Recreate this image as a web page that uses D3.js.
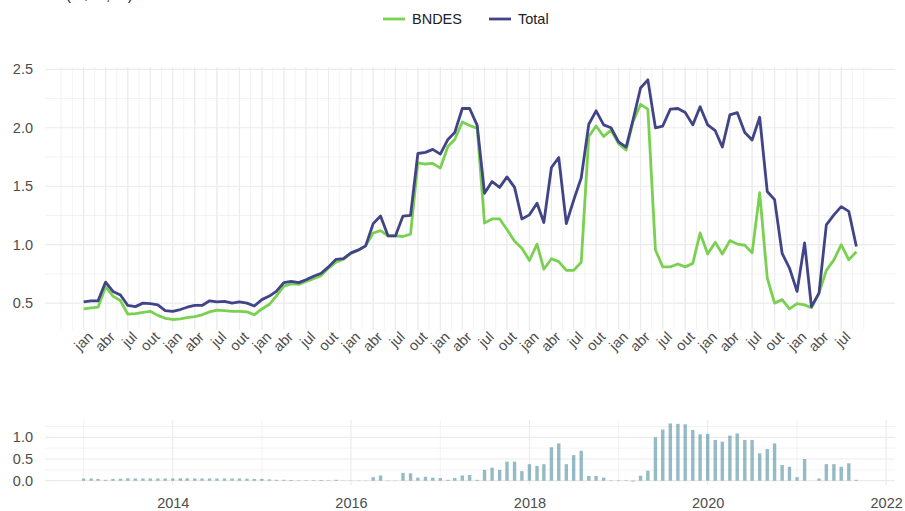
<!DOCTYPE html>
<html>
<head>
<meta charset="utf-8">
<script src="https://cdn.jsdelivr.net/npm/d3@7"></script>
<style>
  body { margin: 0; background: #fff; }
  text { font-family: "Liberation Sans", Arial, sans-serif; }
</style>
</head>
<body>
<div id="chart"></div>
<script>
// monthly series, jan 2013 .. set 2021
var startMonth = "2013-01";
var seriesNames = ["BNDES", "Total"];
var seriesColors = ["#7AD151", "#414487"];

var bndes = [
  0.45, 0.46, 0.465, 0.64, 0.56, 0.52, 0.405, 0.41, 0.42, 0.43, 0.395, 0.37,
  0.36, 0.365, 0.375, 0.385, 0.40, 0.425, 0.44, 0.435, 0.43, 0.43, 0.425, 0.40,
  0.45, 0.49, 0.56, 0.645, 0.665, 0.66, 0.685, 0.71, 0.735, 0.80, 0.85, 0.875,
  0.925, 0.955, 0.99, 1.10, 1.12, 1.075, 1.075, 1.07, 1.09, 1.70, 1.69, 1.695,
  1.655, 1.84, 1.90, 2.05, 2.02, 1.995, 1.185, 1.22, 1.22, 1.13, 1.03, 0.97,
  0.865, 1.005, 0.79, 0.88, 0.855, 0.78, 0.78, 0.85, 1.925, 2.015, 1.925, 1.98,
  1.865, 1.81, 2.05, 2.20, 2.16, 0.955, 0.81, 0.81, 0.835, 0.81, 0.84, 1.10,
  0.92, 1.02, 0.92, 1.035, 1.005, 0.995, 0.93, 1.445, 0.715, 0.50, 0.53, 0.45,
  0.495, 0.485, 0.46, 0.585, 0.78, 0.87, 1.00, 0.87, 0.94
];

var total = [
  0.51, 0.52, 0.52, 0.68, 0.60, 0.57, 0.48, 0.47, 0.50, 0.495, 0.485, 0.435,
  0.43, 0.445, 0.465, 0.48, 0.48, 0.52, 0.51, 0.515, 0.50, 0.51, 0.50, 0.475,
  0.53, 0.56, 0.60, 0.675, 0.685, 0.675, 0.70, 0.73, 0.755, 0.81, 0.875, 0.88,
  0.93, 0.955, 0.99, 1.18, 1.245, 1.075, 1.075, 1.245, 1.25, 1.78, 1.79, 1.815,
  1.775, 1.90, 1.96, 2.165, 2.165, 2.02, 1.44, 1.54, 1.49, 1.58, 1.49, 1.22,
  1.255, 1.355, 1.19, 1.66, 1.745, 1.18, 1.38, 1.57, 2.03, 2.145, 2.025, 2.00,
  1.88, 1.835, 2.065, 2.34, 2.41, 2.00, 2.015, 2.16, 2.165, 2.13, 2.025, 2.18,
  2.025, 1.975, 1.835, 2.11, 2.13, 1.96, 1.895, 2.09, 1.455, 1.385, 0.925, 0.80,
  0.60, 1.015, 0.47, 0.585, 1.17, 1.255, 1.325, 1.285, 0.985
];

// bottom panel bars
var gap = [
  0.05, 0.05, 0.04, 0.02, 0.04, 0.045, 0.055, 0.05, 0.05, 0.05, 0.05, 0.05,
  0.05, 0.055, 0.055, 0.05, 0.05, 0.05, 0.05, 0.05, 0.05, 0.05, 0.045, 0.04,
  0.04, 0.03, 0.02, 0.02, 0.015, 0.01, 0.01, 0.01, 0.015, 0.01, 0.02, 0.005,
  0.005, 0.005, 0.005, 0.08, 0.12, 0.005, 0.005, 0.18, 0.17, 0.07, 0.09, 0.07,
  0.06, 0.02, 0.06, 0.12, 0.13, 0.02, 0.25, 0.30, 0.25, 0.44, 0.44, 0.22,
  0.38, 0.34, 0.38, 0.77, 0.86, 0.38, 0.59, 0.69, 0.11, 0.11, 0.07, 0.01,
  0.01, 0.01, -0.02, 0.115, 0.23, 1.00, 1.18, 1.32, 1.31, 1.30, 1.17, 1.07,
  1.08, 0.94, 0.90, 1.04, 1.09, 0.94, 0.94, 0.63, 0.73, 0.86, 0.36, 0.32,
  0.08, 0.50, 0.00, 0.05, 0.38, 0.38, 0.32, 0.40, 0.02
];

var monthNames = ["jan", "fev", "mar", "abr", "mai", "jun", "jul", "ago", "set", "out", "nov", "dez"];
var topTicks = [0.5, 1.0, 1.5, 2.0, 2.5];
var bottomTicks = [0.0, 0.5, 1.0];
var yearTicks = [2014, 2016, 2018, 2020, 2022];

var W = 905, H = 511;
var panelLeft = 45, panelRight = 895;
var grid = "#ebebeb", axisText = "#4d4d4d";

var parseMonth = d3.timeParse("%Y-%m");
var t0 = parseMonth(startMonth);
var dates = bndes.map(function(d, i) { return d3.timeMonth.offset(t0, i); });
var tLast = dates[dates.length - 1];

var svg = d3.select("#chart").append("svg")
  .attr("width", W).attr("height", H);

// shared x scale (5% padding on both sides, like ggplot)
var span = panelRight - panelLeft;
var x = d3.scaleTime()
  .domain([t0, tLast])
  .range([panelLeft + span * 0.05 / 1.1, panelRight - span * 0.05 / 1.1]);

// title cut by the top edge, only its bottom shows
svg.append("text")
  .attr("x", 66).attr("y", 0)
  .style("font-size", "15px").attr("fill", "#222")
  .text("(R$ bi, %)");

// ---------- top panel ----------
var topPanel = { y0: 67, y1: 330 };
var y = d3.scaleLinear().domain([0.27, 2.52]).range([topPanel.y1, topPanel.y0]);

var gTop = svg.append("g");

// quarter breaks and minor breaks halfway
var quarters = d3.timeMonth.every(3).range(t0, d3.timeMonth.offset(tLast, 1));
var minorX = [];
var qExt = [d3.timeMonth.offset(quarters[0], -3)].concat(quarters, [d3.timeMonth.offset(quarters[quarters.length - 1], 3)]);
for (var i = 0; i < qExt.length - 1; i++) {
  var a = qExt[i], b = qExt[i + 1];
  minorX.push(a);
  minorX.push(new Date((a.getTime() + b.getTime()) / 2));
}
minorX.push(qExt[qExt.length - 1]);

gTop.selectAll(".vminor").data(minorX).enter().append("line")
  .attr("x1", function(d) { return x(d); }).attr("x2", function(d) { return x(d); })
  .attr("y1", topPanel.y0).attr("y2", topPanel.y1)
  .attr("stroke", grid).attr("stroke-width", 0.6);

gTop.selectAll(".hminor").data([0.75, 1.25, 1.75, 2.25]).enter().append("line")
  .attr("x1", panelLeft).attr("x2", panelRight)
  .attr("y1", function(d) { return y(d); }).attr("y2", function(d) { return y(d); })
  .attr("stroke", grid).attr("stroke-width", 0.6);

gTop.selectAll(".vmajor").data(quarters).enter().append("line")
  .attr("x1", function(d) { return x(d); }).attr("x2", function(d) { return x(d); })
  .attr("y1", topPanel.y0).attr("y2", topPanel.y1)
  .attr("stroke", grid).attr("stroke-width", 1.1);

gTop.selectAll(".hmajor").data(topTicks).enter().append("line")
  .attr("x1", panelLeft).attr("x2", panelRight)
  .attr("y1", function(d) { return y(d); }).attr("y2", function(d) { return y(d); })
  .attr("stroke", grid).attr("stroke-width", 1.1);

// y axis labels
var yAxis = gTop.append("g")
  .attr("transform", "translate(" + (panelLeft - 10) + ",0)")
  .call(d3.axisLeft(y).tickValues(topTicks).tickFormat(d3.format(".1f")).tickSize(0).tickPadding(2));
yAxis.select(".domain").remove();
yAxis.selectAll("text").attr("fill", axisText).style("font-size", "14.5px")
  .style("font-family", "Liberation Sans, Arial, sans-serif");

// x axis labels rotated 45
var xAxis = gTop.append("g")
  .attr("transform", "translate(0," + (topPanel.y1 + 2) + ")")
  .call(d3.axisBottom(x).tickValues(quarters).tickFormat(function(d) { return monthNames[d.getMonth()]; }).tickSize(0));
xAxis.select(".domain").remove();
xAxis.selectAll("text")
  .attr("fill", axisText).style("font-size", "14.5px")
  .style("font-family", "Liberation Sans, Arial, sans-serif")
  .style("text-anchor", "end")
  .attr("dx", "0.2em").attr("dy", "0.55em")
  .attr("transform", "rotate(-45)");

// lines
var seriesData = [bndes, total];
var line = d3.line()
  .x(function(d, i) { return x(dates[i]); })
  .y(function(d) { return y(d); });

gTop.selectAll(".series").data(seriesData).enter().append("path")
  .attr("d", function(d) { return line(d); })
  .attr("fill", "none")
  .attr("stroke", function(d, i) { return seriesColors[i]; })
  .attr("stroke-width", 2.8)
  .attr("stroke-linejoin", "round");

// legend
var legend = svg.append("g").attr("transform", "translate(383,19)");
var legendX = [0, 106];
seriesNames.forEach(function(name, i) {
  var lg = legend.append("g").attr("transform", "translate(" + legendX[i] + ",0)");
  lg.append("line").attr("x1", 0).attr("x2", 22).attr("y1", 0).attr("y2", 0)
    .attr("stroke", seriesColors[i]).attr("stroke-width", 2.8);
  lg.append("text").attr("x", 29).attr("y", 5)
    .style("font-size", "14.5px").attr("fill", "#222").text(name);
});

// ---------- bottom panel ----------
var bot = { y0: 420, y1: 485 };
var y2 = d3.scaleLinear().domain([-0.1, 1.4]).range([bot.y1, bot.y0]);
var gBot = svg.append("g");

var yearMajor = yearTicks.map(function(d) { return new Date(d, 0, 1); });
var yearMinor = [2013, 2015, 2017, 2019, 2021].map(function(d) { return new Date(d, 0, 1); });

gBot.selectAll(".vminor").data(yearMinor).enter().append("line")
  .attr("x1", function(d) { return x(d); }).attr("x2", function(d) { return x(d); })
  .attr("y1", bot.y0).attr("y2", bot.y1)
  .attr("stroke", grid).attr("stroke-width", 0.6);

gBot.selectAll(".hminor").data([0.25, 0.75, 1.25]).enter().append("line")
  .attr("x1", panelLeft).attr("x2", panelRight)
  .attr("y1", function(d) { return y2(d); }).attr("y2", function(d) { return y2(d); })
  .attr("stroke", grid).attr("stroke-width", 0.6);

gBot.selectAll(".vmajor").data(yearMajor).enter().append("line")
  .attr("x1", function(d) { return x(d); }).attr("x2", function(d) { return x(d); })
  .attr("y1", bot.y0).attr("y2", bot.y1)
  .attr("stroke", grid).attr("stroke-width", 1.1);

gBot.selectAll(".hmajor").data(bottomTicks).enter().append("line")
  .attr("x1", panelLeft).attr("x2", panelRight)
  .attr("y1", function(d) { return y2(d); }).attr("y2", function(d) { return y2(d); })
  .attr("stroke", grid).attr("stroke-width", 1.1);

var y2Axis = gBot.append("g")
  .attr("transform", "translate(" + (panelLeft - 10) + ",0)")
  .call(d3.axisLeft(y2).tickValues(bottomTicks).tickFormat(d3.format(".1f")).tickSize(0).tickPadding(2));
y2Axis.select(".domain").remove();
y2Axis.selectAll("text").attr("fill", axisText).style("font-size", "14.5px")
  .style("font-family", "Liberation Sans, Arial, sans-serif");

var x2Axis = gBot.append("g")
  .attr("transform", "translate(0," + (bot.y1 + 4) + ")")
  .call(d3.axisBottom(x).tickValues(yearMajor).tickFormat(d3.timeFormat("%Y")).tickSize(0).tickPadding(9));
x2Axis.select(".domain").remove();
x2Axis.selectAll("text").attr("fill", axisText).style("font-size", "14.5px")
  .style("font-family", "Liberation Sans, Arial, sans-serif");

// bars
var barW = 3.4;
gBot.selectAll(".bar").data(gap).enter().append("rect")
  .attr("x", function(d, i) { return x(dates[i]) - barW / 2; })
  .attr("y", function(d) { return y2(Math.max(0, d)); })
  .attr("width", barW)
  .attr("height", function(d) { return Math.abs(y2(d) - y2(0)); })
  .attr("fill", "#2A788E")
  .attr("fill-opacity", 0.5);
</script>
</body>
</html>
